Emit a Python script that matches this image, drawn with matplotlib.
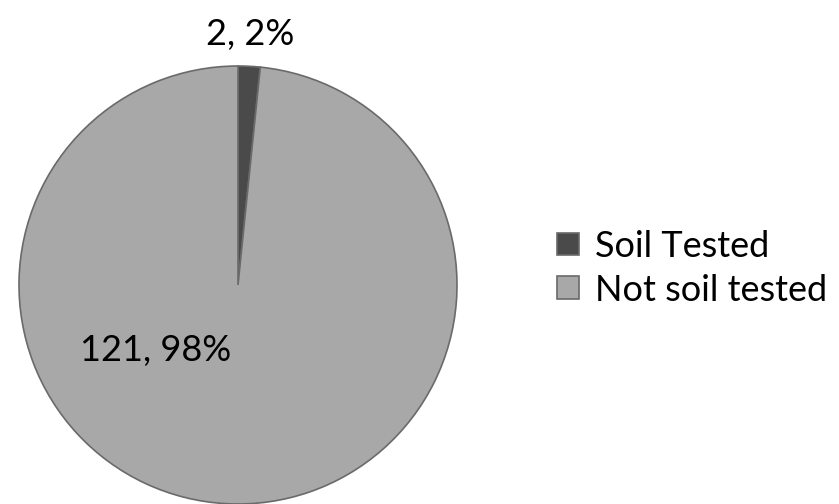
import matplotlib.pyplot as plt

categories = ["Soil Tested", "Not soil tested"]
counts = [2, 121]
colors = ["#4a4a4a", "#a8a8a8"]

plt.rcParams['font.family'] = ['Lato', 'DejaVu Sans']

fig = plt.figure(figsize=(8.39, 5.04), dpi=100)
ax = fig.add_axes([0, 0, 1, 1])

total = sum(counts)
wedges, _ = ax.pie(counts, colors=colors, startangle=90, counterclock=False,
                   center=(238, 219), radius=219,
                   wedgeprops=dict(edgecolor="#6a6a6a", linewidth=1.2))
ax.set_xlim(0, 839)
ax.set_ylim(0, 504)
ax.set_aspect('equal')
ax.axis('off')

lbl = [f"{c}, {round(100 * c / total)}%" for c in counts]
ax.text(250, 469, lbl[0], fontsize=26, ha='center', va='center')
ax.text(156, 153, lbl[1], fontsize=26, ha='center', va='center')

fig.legend(wedges, categories, loc='center left', bbox_to_anchor=(0.664, 0.468),
           frameon=False, fontsize=26, handlelength=0.6, handleheight=0.6,
           handletextpad=0.45, labelspacing=0.3, borderpad=0, borderaxespad=0)

plt.savefig("out.png", dpi=100)
